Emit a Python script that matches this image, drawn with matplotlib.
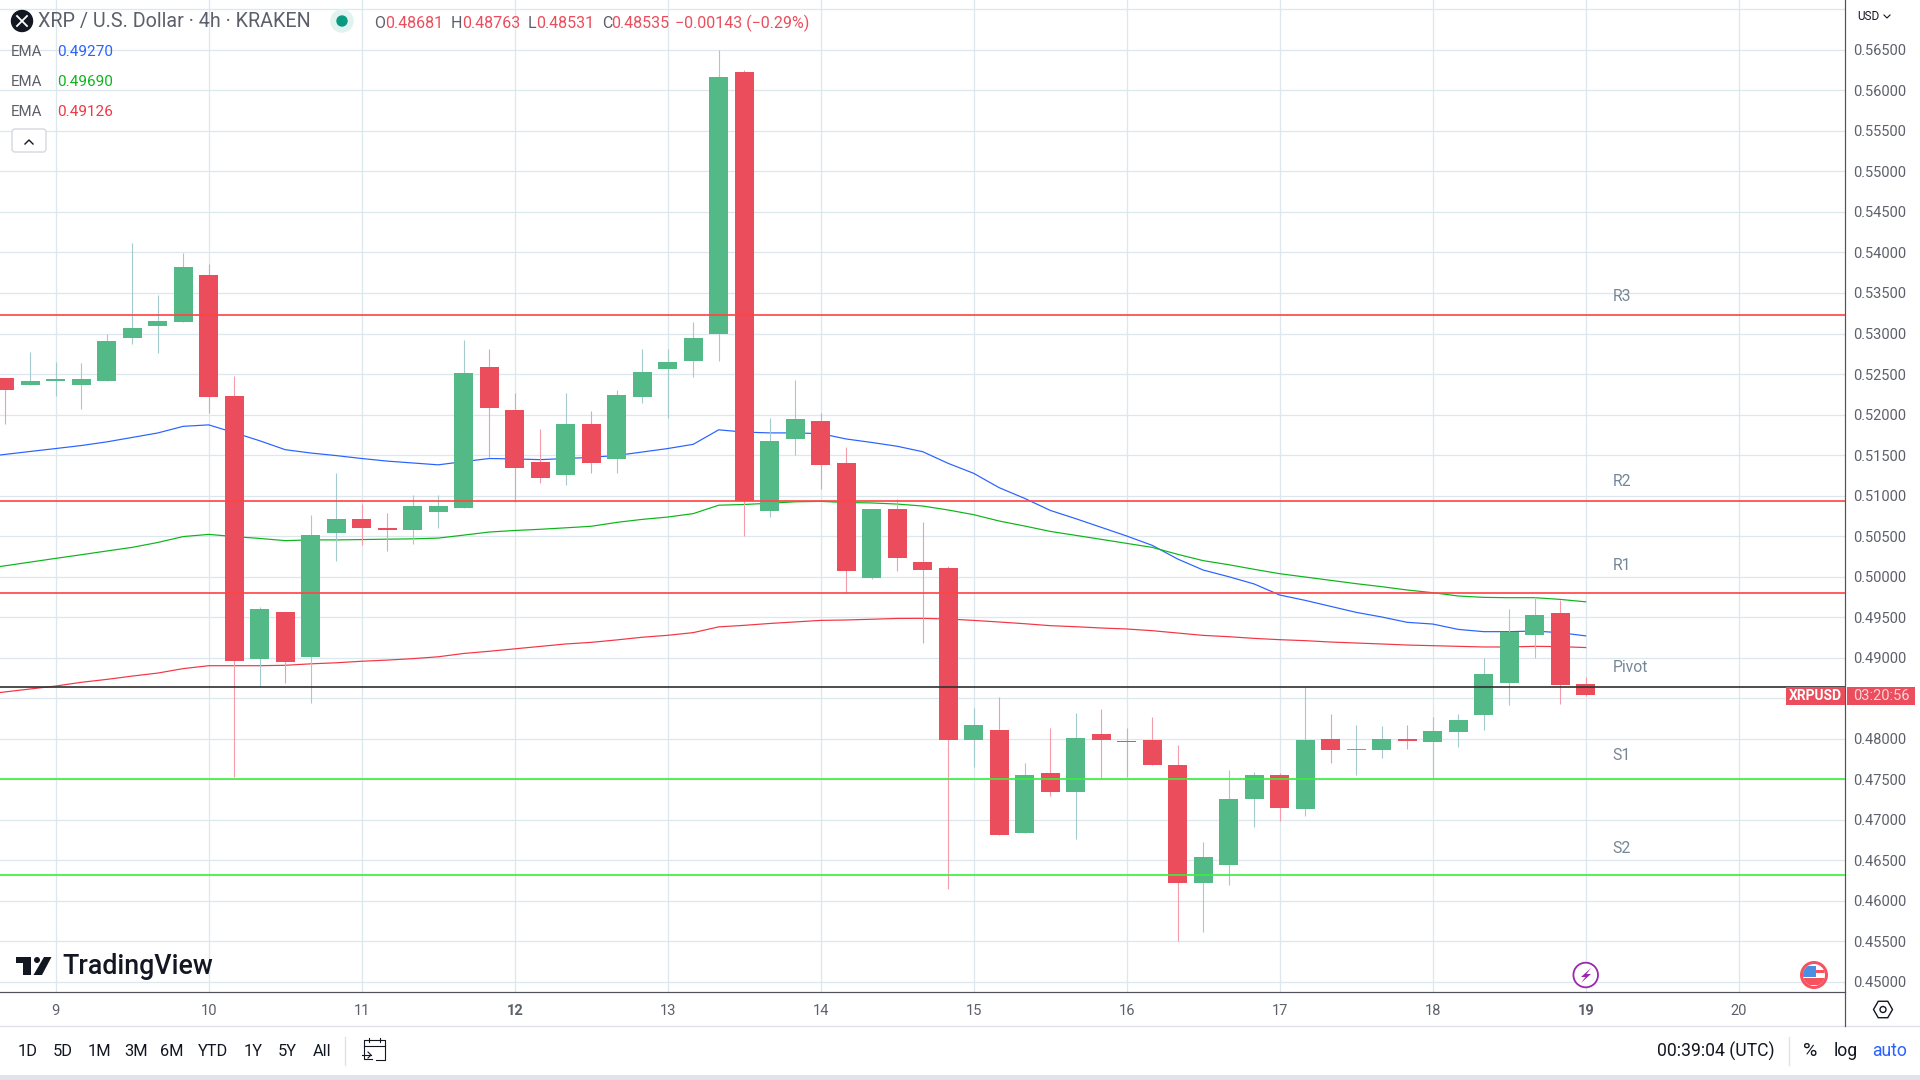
import matplotlib
matplotlib.use('Agg')
import matplotlib.pyplot as plt
import numpy as np
from matplotlib.patches import Circle, Polygon, Rectangle, FancyBboxPatch

plt.rcParams['font.family'] = ['Roboto', 'DejaVu Sans']

# 4h candles, first one sits two bars before the "9" day mark
opens = [0.52453, 0.52366, 0.52416, 0.52366, 0.52416, 0.52946, 0.53092, 0.53142, 0.53722, 0.52229,
         0.48984, 0.49564, 0.49012, 0.50541, 0.50714, 0.50600, 0.50577, 0.50801, 0.50850, 0.52582,
         0.52062, 0.51411, 0.51250, 0.51878, 0.51458, 0.52223, 0.52558, 0.52667, 0.52988, 0.56221,
         0.50806, 0.51694, 0.51925, 0.51397, 0.49990, 0.50830, 0.50181, 0.50107, 0.47985, 0.48109,
         0.46838, 0.47578, 0.47344, 0.48059, 0.47973, 0.47985, 0.47677, 0.46221, 0.46443, 0.47257,
         0.47554, 0.47134, 0.47998, 0.47862, 0.47862, 0.47998, 0.47961, 0.48084, 0.48294, 0.48688,
         0.49281, 0.49552, 0.48681]
closes = [0.52302, 0.52416, 0.52439, 0.52439, 0.52909, 0.53069, 0.53156, 0.53822, 0.52215, 0.48961,
          0.49600, 0.48948, 0.50513, 0.50714, 0.50600, 0.50577, 0.50874, 0.50874, 0.52516, 0.52086,
          0.51335, 0.51222, 0.51888, 0.51397, 0.52237, 0.52530, 0.52643, 0.52940, 0.56170, 0.50929,
          0.51680, 0.51940, 0.51382, 0.50075, 0.50830, 0.50235, 0.50082, 0.47985, 0.48170, 0.46813,
          0.47554, 0.47344, 0.48010, 0.47985, 0.47961, 0.47677, 0.46221, 0.46542, 0.47257, 0.47554,
          0.47146, 0.47985, 0.47862, 0.47874, 0.47998, 0.47973, 0.48096, 0.48232, 0.48800, 0.49318,
          0.49527, 0.48664, 0.48535]
highs = [0.52453, 0.52772, 0.52649, 0.52635, 0.52996, 0.54119, 0.53475, 0.53995, 0.53859, 0.52476,
         0.49628, 0.49564, 0.50760, 0.51280, 0.50897, 0.50787, 0.51011, 0.51011, 0.52925, 0.52813,
         0.52270, 0.51817, 0.52261, 0.52039, 0.52308, 0.52804, 0.52804, 0.53148, 0.56500, 0.56245,
         0.51963, 0.52421, 0.52024, 0.51604, 0.50830, 0.50962, 0.50675, 0.50132, 0.48380, 0.48516,
         0.47702, 0.48133, 0.48318, 0.48368, 0.48133, 0.48269, 0.47924, 0.46727, 0.47615, 0.47591,
         0.47578, 0.48639, 0.48306, 0.48170, 0.48158, 0.48170, 0.48269, 0.48306, 0.48997, 0.49601,
         0.49749, 0.49712, 0.48763]
lows = [0.51887, 0.52366, 0.52229, 0.52069, 0.52416, 0.52873, 0.52759, 0.53142, 0.52015, 0.47533,
        0.48651, 0.48683, 0.48437, 0.50194, 0.50394, 0.50321, 0.50404, 0.50604, 0.50850, 0.51472,
        0.50925, 0.51151, 0.51137, 0.51283, 0.51283, 0.52138, 0.51954, 0.52459, 0.52667, 0.50500,
        0.50740, 0.51505, 0.51076, 0.49796, 0.49976, 0.50075, 0.49186, 0.46147, 0.47652, 0.46813,
        0.46838, 0.47295, 0.46764, 0.47504, 0.47529, 0.47677, 0.45506, 0.45617, 0.46197, 0.46912,
        0.46986, 0.47048, 0.47702, 0.47554, 0.47763, 0.47874, 0.47520, 0.47899, 0.48109, 0.48417,
        0.48997, 0.48429, 0.48531]

# EMAs start one bar earlier so they run off the left edge
ema_blue = [0.51470, 0.51508, 0.51545, 0.51581, 0.51618, 0.51663, 0.51718, 0.51773, 0.51855, 0.51873,
            0.51777, 0.51677, 0.51567, 0.51526, 0.51494, 0.51458, 0.51426, 0.51403, 0.51380, 0.51420,
            0.51458, 0.51453, 0.51444, 0.51458, 0.51472, 0.51496, 0.51538, 0.51581, 0.51633, 0.51812,
            0.51784, 0.51774, 0.51774, 0.51765, 0.51699, 0.51656, 0.51609, 0.51542, 0.51398, 0.51275,
            0.51098, 0.50966, 0.50818, 0.50716, 0.50609, 0.50502, 0.50387, 0.50218, 0.50082, 0.50000,
            0.49910, 0.49774, 0.49708, 0.49634, 0.49560, 0.49503, 0.49437, 0.49416, 0.49350, 0.49322,
            0.49322, 0.49330, 0.49309, 0.49270]
ema_green = [0.50090, 0.50134, 0.50180, 0.50226, 0.50271, 0.50317, 0.50362, 0.50422, 0.50495, 0.50522,
             0.50495, 0.50472, 0.50445, 0.50454, 0.50454, 0.50458, 0.50463, 0.50467, 0.50476, 0.50513,
             0.50551, 0.50570, 0.50585, 0.50603, 0.50622, 0.50670, 0.50707, 0.50736, 0.50778, 0.50882,
             0.50891, 0.50906, 0.50924, 0.50929, 0.50915, 0.50910, 0.50896, 0.50872, 0.50823, 0.50765,
             0.50687, 0.50625, 0.50559, 0.50510, 0.50461, 0.50411, 0.50362, 0.50276, 0.50198, 0.50148,
             0.50091, 0.50037, 0.49996, 0.49955, 0.49914, 0.49877, 0.49836, 0.49803, 0.49762, 0.49745,
             0.49741, 0.49741, 0.49720, 0.49690]
ema_red = [0.48540, 0.48578, 0.48615, 0.48651, 0.48697, 0.48733, 0.48774, 0.48811, 0.48866, 0.48902,
           0.48902, 0.48902, 0.48907, 0.48925, 0.48938, 0.48957, 0.48971, 0.48989, 0.49012, 0.49053,
           0.49080, 0.49110, 0.49140, 0.49170, 0.49190, 0.49220, 0.49253, 0.49277, 0.49310, 0.49381,
           0.49400, 0.49423, 0.49442, 0.49461, 0.49466, 0.49475, 0.49485, 0.49486, 0.49478, 0.49461,
           0.49441, 0.49420, 0.49396, 0.49383, 0.49367, 0.49355, 0.49334, 0.49305, 0.49276, 0.49260,
           0.49239, 0.49223, 0.49211, 0.49194, 0.49182, 0.49170, 0.49157, 0.49149, 0.49141, 0.49133,
           0.49133, 0.49141, 0.49137, 0.49126]

level_names = ['R3', 'R2', 'R1', 'Pivot', 'S1', 'S2']
level_values = [0.53229, 0.50938, 0.49800, 0.48640, 0.47503, 0.46320]
level_colors = ['#FF4545', '#FF4545', '#FF4545', '#333333', '#3DEE3D', '#3DEE3D']

day_labels = ['9', '10', '11', '12', '13', '14', '15', '16', '17', '18', '19', '20']
bold_days = ['12', '19']
price_ticks = [0.45 + 0.005 * i for i in range(25)]
range_buttons = ['1D', '5D', '1M', '3M', '6M', 'YTD', '1Y', '5Y', 'All']
button_x = [28, 62.5, 99, 136, 172, 213, 253, 287, 322]

UP = '#53B987'
DOWN = '#EB4D5C'
UP_WICK = '#A3CBCD'
DOWN_WICK = '#F59CAB'
GRID = '#DDE7EE'
AXIS = '#50535E'
TEXT = '#5D606B'
BLUE = '#2962FF'
EMA_GREEN = '#0CB51A'
EMA_RED = '#F23645'

W, H = 1920, 1080
PX = 0.72  # 1 px in points at dpi 100
fig = plt.figure(figsize=(W / 100, H / 100), dpi=100, facecolor='white')

# main chart, pixel box found from the reference axes
right, bottom = 1845, 992.3
x0, step = 55.7, 25.5
ax = fig.add_axes([0, 1 - bottom / H, right / W, bottom / H])
ax.set_xlim((0 - x0) / step, (right - x0) / step)
ax.set_ylim(0.45 - (bottom - 982) / 8106, 0.45 + 982 / 8106)

xs = np.arange(-2, -2 + len(opens))
for x, o, c, hi, lo in zip(xs, opens, closes, highs, lows):
    up = c >= o
    ax.vlines(x, lo, hi, color=UP_WICK if up else DOWN_WICK, lw=PX * 1.1, zorder=3)
    ax.bar(x, abs(c - o), bottom=min(o, c), width=0.745, color=UP if up else DOWN, lw=0, zorder=4)

ema_x = np.arange(-3, -3 + len(ema_blue))
ax.plot(ema_x, ema_blue, color=BLUE, lw=PX * 1.2, zorder=2)
ax.plot(ema_x, ema_green, color=EMA_GREEN, lw=PX * 1.2, zorder=2)
ax.plot(ema_x, ema_red, color=EMA_RED, lw=PX * 1.2, zorder=2)

for name, val, col in zip(level_names, level_values, level_colors):
    ax.axhline(val, color=col, lw=PX * 2, alpha=0.85, zorder=5)

ax.set_xticks(np.arange(len(day_labels)) * 6)
ax.set_xticklabels(day_labels)
ax.set_yticks(price_ticks)
ax.set_yticklabels(['%.5f' % p for p in price_ticks[:-1]] + [''])
ax.yaxis.tick_right()
ax.tick_params(axis='x', length=0, pad=8.5, labelsize=10.5, labelcolor=TEXT)
ax.tick_params(axis='y', length=0, pad=6, labelsize=10.5, labelcolor=TEXT)
for lab in ax.get_xticklabels():
    if lab.get_text() in bold_days:
        lab.set_fontweight('bold')
ax.grid(True, color=GRID, lw=PX * 1.3, zorder=0)
ax.set_axisbelow(True)
for side in ['top', 'left']:
    ax.spines[side].set_visible(False)
for side in ['bottom', 'right']:
    ax.spines[side].set_color(AXIS)
    ax.spines[side].set_linewidth(PX * 1.2)

# overlay in pixel coordinates for the TradingView furniture
ov = fig.add_axes([0, 0, 1, 1], facecolor='none')
ov.set_xlim(0, W)
ov.set_ylim(H, 0)
ov.axis('off')


def label(x, y, s, color=TEXT, size=10.5, ha='left', **kw):
    ov.text(x, y, s, color=color, fontsize=size, ha=ha, va='center', **kw)


# header
ov.add_patch(Circle((22, 21), 10.5, color='#131722'))
ov.plot([17, 27], [16, 26], color='white', lw=1.3)
ov.plot([17, 27], [26, 16], color='white', lw=1.3)
label(38.5, 22, 'XRP / U.S. Dollar · 4h · KRAKEN', size=14.2)
ov.add_patch(Circle((342, 21), 11, color='#E0F3EF'))
ov.add_patch(Circle((342, 21), 5, color='#089981'))
ohlc_keys = [('O', 374), ('H', 451), ('L', 528), ('C', 601.7)]
ohlc_vals = [('0.48681', 385), ('0.48763', 462), ('0.48531', 536.5), ('0.48535', 611)]
for s, x in ohlc_keys:
    label(x, 23, s, size=11.5)
for s, x in ohlc_vals:
    label(x, 23, s, color=DOWN, size=11.5)
label(675, 23, '−0.00143 (−0.29%)', color=DOWN, size=11.5)

# EMA legend
ema_rows = [(52, '0.49270', BLUE), (82, '0.49690', EMA_GREEN), (112, '0.49126', EMA_RED)]
for y, s, col in ema_rows:
    label(11, y, 'EMA', size=10.8)
    label(57.5, y, s, color=col, size=11)
ov.add_patch(FancyBboxPatch((12, 129), 34, 23, boxstyle='round,pad=0,rounding_size=3',
                            fc='white', ec='#D6D8E0', lw=1))
ov.plot([25, 29, 33], [144, 140, 144], color='#131722', lw=1)

# pivot names
level_y = [296.5, 481.5, 566, 667.5, 755.5, 848.5]
for name, y in zip(level_names, level_y):
    label(1612.5, y, name, color='#758696', size=11.3)

# last price badge
ov.add_patch(Rectangle((1786, 687), 58.5, 18, color=DOWN, lw=0))
ov.add_patch(Rectangle((1846.5, 687), 68, 18, color=DOWN, lw=0))
label(1815, 696, 'XRPUSD', color='white', size=10, ha='center', fontweight='bold')
label(1881, 696, '03:20:56', color='#FBD5DA', size=10.5, ha='center')

# currency dropdown
label(1857, 16, 'USD', color='#131722', size=8.5)
ov.plot([1884, 1887, 1890], [15, 18, 15], color='#131722', lw=0.8)

# logo
ov.add_patch(Polygon([(15.6, 957), (31, 957), (31, 975), (22.5, 975), (22.5, 963), (15.6, 963)], color='#131722', lw=0))
ov.add_patch(Circle((37, 960), 3, color='#131722', lw=0))
ov.add_patch(Polygon([(44, 957), (51.5, 957), (42, 975), (33.5, 975)], color='#131722', lw=0))
label(62, 967, 'TradingView', color='#131722', size=19.3, fontweight='medium')

# chart icons
ov.add_patch(Circle((1585.7, 975), 12.3, fc='white', ec='#9C27B0', lw=1.3))
ov.add_patch(Polygon([(1591, 968), (1581, 977), (1585.5, 977), (1581, 983), (1591, 974), (1586.5, 974)],
                     color='#9C27B0', lw=0))
ov.add_patch(Circle((1814, 975), 14, color='#F7525F', lw=0))
flag_edge = ov.add_patch(Circle((1814, 975), 11, color='white', lw=0))
for y, h in [(970, 2.5), (978, 7)]:
    st = ov.add_patch(Rectangle((1800, y), 28, h, color='#F7525F', lw=0))
    st.set_clip_path(flag_edge)
canton = ov.add_patch(Rectangle((1800, 966), 16, 11, color='#4A90E2', lw=0))
canton.set_clip_path(flag_edge)

# settings hexagon
ang = np.radians(np.arange(0, 360, 60))
ov.add_patch(Polygon(np.c_[1883 + 9.5 * np.cos(ang), 1009.5 + 9.5 * np.sin(ang)], fc='white', ec='#131722', lw=1))
ov.add_patch(Circle((1883, 1009.5), 3, fc='white', ec='#131722', lw=1))

# bottom toolbar
ov.plot([0, W], [1026, 1026], color='#E0E3EB', lw=1)
ov.plot([1845, 1845], [992, 1026], color=AXIS, lw=PX * 1.2)
ov.add_patch(Rectangle((0, 1075), W, 5, color='#E0E3EB', lw=0))
for s, x in zip(range_buttons, button_x):
    label(x, 1051, s, color='#131722', size=11.8, ha='center')
ov.plot([345, 345], [1037, 1065], color='#E0E3EB', lw=1)
ov.plot([1789, 1789], [1037, 1065], color='#E0E3EB', lw=1)
ov.plot([372, 364, 364, 385, 385, 376], [1059, 1059, 1040, 1040, 1060, 1060], color='#131722', lw=0.8)
ov.plot([364, 385], [1046, 1046], color='#131722', lw=0.8)
ov.plot([369, 369], [1038, 1042], color='#131722', lw=0.8)
ov.plot([380, 380], [1038, 1042], color='#131722', lw=0.8)
ov.plot([362, 371], [1055, 1055], color='#131722', lw=0.8)
ov.plot([368, 371, 368], [1052, 1055, 1058], color='#131722', lw=0.8)

label(1657, 1051, '00:39:04 (UTC)', color='#131722', size=12.7)
label(1810, 1051, '%', color='#131722', size=14, ha='center')
label(1846, 1051, 'log', color='#131722', size=12.7, ha='center')
label(1890, 1051, 'auto', color=BLUE, size=12.7, ha='center')

fig.savefig('out.png', dpi=100, facecolor='white')
